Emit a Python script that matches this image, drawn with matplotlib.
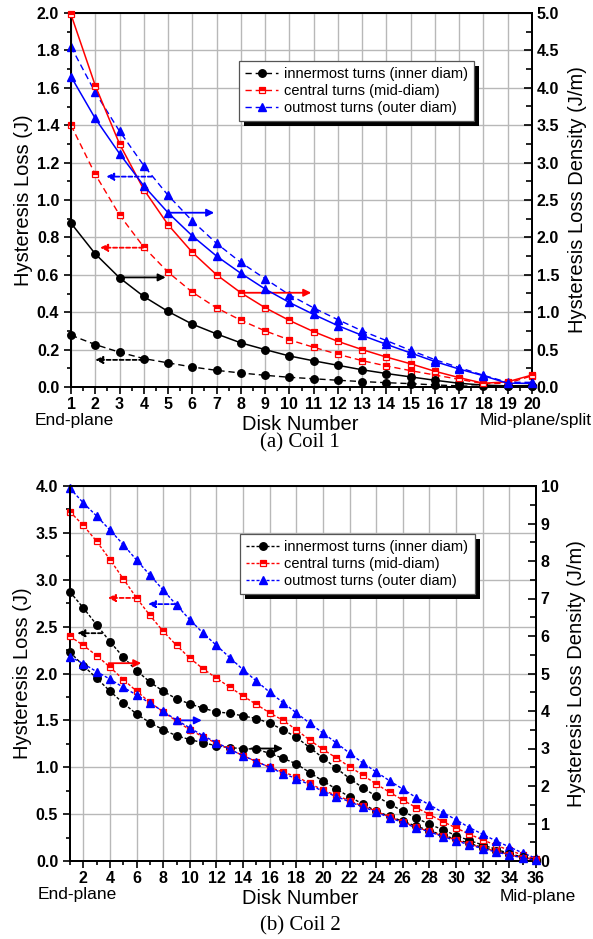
import matplotlib
matplotlib.use("Agg")
import matplotlib.pyplot as plt
from matplotlib.ticker import MultipleLocator, FormatStrFormatter, FixedLocator
from matplotlib.patches import Rectangle
from matplotlib.lines import Line2D
from matplotlib.transforms import IdentityTransform

# ---------------- data: Coil 1 ----------------
disk1 = list(range(1, 21))
c1_inner_loss = [0.277, 0.227, 0.186, 0.152, 0.129, 0.107, 0.089, 0.075, 0.0625, 0.052,
                 0.044, 0.036, 0.029, 0.023, 0.018, 0.011, 0.006, 0.003, 0.003, 0.004]
c1_inner_dens = [2.19, 1.78, 1.46, 1.21, 1.01, 0.84, 0.71, 0.59, 0.50, 0.415,
                 0.35, 0.29, 0.23, 0.18, 0.135, 0.09, 0.05, 0.025, 0.015, 0.02]
c1_mid_loss = [1.40, 1.137, 0.92, 0.748, 0.614, 0.507, 0.423, 0.357, 0.30, 0.252,
               0.2125, 0.175, 0.141, 0.1125, 0.0875, 0.064, 0.041, 0.018, 0.02, 0.06]
c1_mid_dens = [4.98, 4.03, 3.25, 2.64, 2.17, 1.80, 1.50, 1.26, 1.06, 0.89,
               0.74, 0.61, 0.50, 0.40, 0.31, 0.21, 0.125, 0.05, 0.07, 0.16]
c1_outer_loss = [1.82, 1.575, 1.368, 1.184, 1.025, 0.888, 0.768, 0.666, 0.579, 0.493,
                 0.423, 0.36, 0.30, 0.248, 0.196, 0.146, 0.104, 0.0625, 0.025, 0.025]
c1_outer_dens = [4.15, 3.59, 3.12, 2.69, 2.33, 2.02, 1.75, 1.52, 1.31, 1.13,
                 0.97, 0.82, 0.69, 0.57, 0.455, 0.34, 0.24, 0.15, 0.05, 0.05]

# ---------------- data: Coil 2 ----------------
disk2 = list(range(1, 37))
c2_inner_loss = [2.87, 2.70, 2.52, 2.34, 2.175, 2.03, 1.91, 1.81, 1.73, 1.676, 1.63, 1.59,
                 1.576, 1.547, 1.52, 1.47, 1.40, 1.32, 1.21, 1.10, 0.99, 0.88, 0.78, 0.69,
                 0.61, 0.53, 0.46, 0.39, 0.335, 0.27, 0.22, 0.17, 0.125, 0.08, 0.04, 0.015]
c2_inner_dens = [5.57, 5.21, 4.875, 4.53, 4.21, 3.92, 3.69, 3.50, 3.34, 3.24, 3.15, 3.075,
                 3.02, 3.0, 2.98, 2.87, 2.74, 2.59, 2.36, 2.13, 1.92, 1.71, 1.52, 1.33,
                 1.19, 1.06, 0.93, 0.81, 0.69, 0.58, 0.47, 0.36, 0.27, 0.18, 0.10, 0.03]
c2_mid_loss = [3.725, 3.58, 3.41, 3.216, 3.01, 2.806, 2.62, 2.45, 2.30, 2.164, 2.05, 1.95,
               1.854, 1.76, 1.67, 1.58, 1.50, 1.40, 1.29, 1.19, 1.10, 1.005, 0.916, 0.82,
               0.734, 0.65, 0.57, 0.496, 0.42, 0.353, 0.285, 0.225, 0.168, 0.114, 0.064, 0.02]
c2_mid_dens = [5.99, 5.75, 5.48, 5.17, 4.84, 4.53, 4.23, 3.98, 3.73, 3.50, 3.31, 3.14,
               2.98, 2.81, 2.65, 2.50, 2.37, 2.25, 2.07, 1.89, 1.75, 1.61, 1.46, 1.33,
               1.17, 1.05, 0.90, 0.79, 0.67, 0.56, 0.45, 0.35, 0.26, 0.17, 0.09, 0.03]
c2_outer_loss = [3.975, 3.82, 3.68, 3.53, 3.376, 3.21, 3.05, 2.89, 2.73, 2.574, 2.43, 2.30,
                 2.17, 2.04, 1.92, 1.80, 1.69, 1.58, 1.47, 1.365, 1.26, 1.15, 1.045, 0.95,
                 0.856, 0.766, 0.677, 0.60, 0.517, 0.44, 0.356, 0.285, 0.214, 0.15, 0.086, 0.03]
c2_outer_dens = [5.45, 5.26, 5.05, 4.85, 4.63, 4.43, 4.21, 3.99, 3.76, 3.55, 3.34, 3.16,
                 2.98, 2.81, 2.65, 2.50, 2.33, 2.20, 2.03, 1.86, 1.72, 1.58, 1.44, 1.31,
                 1.15, 1.03, 0.88, 0.78, 0.65, 0.54, 0.43, 0.33, 0.24, 0.16, 0.08, 0.02]

legend_labels = ["innermost turns (inner diam)", "central turns (mid-diam)",
                 "outmost turns (outer diam)"]

# arrows (in left-axis data units): (x_start, x_end, y, colour, dashed)
c1_arrows = [(4.33, 2.45, 1.125, "blue", True), (4.98, 6.9, 0.932, "blue", False),
             (3.97, 2.2, 0.745, "red", True), (8.0, 10.9, 0.504, "red", False),
             (3.0, 4.9, 0.586, "black", False), (3.97, 2.0, 0.145, "black", True)]
c2_arrows = [(3.4, 1.55, 2.43, "black", True), (6.0, 3.85, 2.806, "red", True),
             (8.9, 6.85, 2.74, "blue", True), (3.9, 6.35, 2.11, "red", False),
             (8.9, 10.9, 1.50, "blue", False), (14.6, 17.0, 1.20, "black", False)]

SANS = "Liberation Sans"
SERIF = "Liberation Serif"
plt.rcParams["font.family"] = SANS

W, H = 593, 939
fig = plt.figure(figsize=(W / 100, H / 100), dpi=100)
TICK_FS = 11.5

styles = {
    "black": dict(color="black", marker="o", markersize=5.4, markerfacecolor="black",
                  markeredgecolor="black"),
    "red": dict(color="red", marker="s", markersize=4.8, markerfacecolor="red",
                markerfacecoloralt="white", fillstyle="top", markeredgecolor="red",
                markeredgewidth=0.9),
    "blue": dict(color="blue", marker="^", markersize=5.8, markerfacecolor="blue",
                 markeredgecolor="blue"),
}


def make_axes(rect):
    l, b, r, t = rect
    ax = fig.add_axes([l / W, 1 - b / H, (r - l) / W, (b - t) / H])
    axr = ax.twinx()
    for a in (ax, axr):
        for s in a.spines.values():
            s.set_linewidth(1.4)
    ax.set_axisbelow(True)
    ax.grid(True, which="major", color="#b8b8b8", linewidth=1.0)
    ax.tick_params(axis="y", which="both", direction="out", right=False,
                   labelsize=TICK_FS, width=1.2)
    ax.tick_params(axis="y", which="major", length=5)
    ax.tick_params(axis="y", which="minor", length=3)
    ax.tick_params(axis="x", which="both", direction="out", top=False,
                   labelsize=TICK_FS, width=1.2, pad=2.5)
    ax.tick_params(axis="x", which="major", length=5)
    ax.tick_params(axis="x", which="minor", length=3)
    axr.tick_params(axis="y", which="both", direction="in", left=False,
                    labelsize=TICK_FS, width=1.2)
    axr.tick_params(axis="y", which="major", length=6)
    axr.tick_params(axis="y", which="minor", length=4)
    axr.tick_params(axis="x", which="major", direction="in", top=True, bottom=False,
                    labeltop=False, labelbottom=False, length=6, width=1.2)
    axr.tick_params(axis="x", which="minor", top=False, bottom=False)
    return ax, axr


def bold_ticks(ax, axr):
    for lab in ax.get_xticklabels() + ax.get_yticklabels() + axr.get_yticklabels():
        lab.set_fontweight("bold")


def add_arrows(ax, arrows):
    for x0, x1, y, col, dashed in arrows:
        ax.annotate("", xy=(x1, y), xytext=(x0, y),
                    arrowprops=dict(arrowstyle="-|>", color=col, lw=1.3,
                                    linestyle=(0, (2.2, 1.4)) if dashed else "-",
                                    mutation_scale=11, shrinkA=0, shrinkB=0),
                    zorder=6)


def add_legend(axr, handles):
    leg = axr.legend(handles, legend_labels, loc="upper left",
                     bbox_to_anchor=(0.364, 0.872), fontsize=10.5, frameon=True,
                     fancybox=False, framealpha=1, edgecolor="#555555",
                     borderpad=0.42, labelspacing=0.2, handlelength=2.3,
                     handletextpad=0.35, borderaxespad=0)
    leg.get_frame().set_linewidth(0.9)
    leg.set_zorder(10)
    return leg


def shadow_for(leg, axr):
    fig.canvas.draw()
    bb = leg.get_window_extent()
    rect = Rectangle((bb.x0 + 5, bb.y0 - 5), bb.width, bb.height,
                     transform=IdentityTransform(), facecolor="black",
                     edgecolor="none", zorder=9, clip_on=False)
    axr.add_artist(rect)


# ================= Coil 1 =================
ax1, ax1r = make_axes((71, 387, 532, 13))
dash1 = (0, (4.5, 2.8))
series1 = [("black", c1_inner_loss, c1_inner_dens),
           ("red", c1_mid_loss, c1_mid_dens),
           ("blue", c1_outer_loss, c1_outer_dens)]
h1 = []
for col, loss, dens in series1:
    ax1.plot(disk1, loss, linestyle=dash1, lw=1.0, clip_on=False, zorder=3, **styles[col])
    ax1r.plot(disk1, dens, linestyle="-", lw=1.1, clip_on=False, zorder=3, **styles[col])
    h1.append(Line2D([], [], linestyle=dash1, lw=1.0, **styles[col]))
ax1.set_xlim(1, 20)
ax1.set_ylim(0, 2.0)
ax1r.set_ylim(0, 5.0)
ax1.xaxis.set_major_locator(MultipleLocator(1))
ax1.xaxis.set_minor_locator(MultipleLocator(0.5))
ax1.yaxis.set_major_locator(MultipleLocator(0.2))
ax1.yaxis.set_minor_locator(MultipleLocator(0.1))
ax1.yaxis.set_major_formatter(FormatStrFormatter("%.1f"))
ax1r.yaxis.set_major_locator(MultipleLocator(0.5))
ax1r.yaxis.set_minor_locator(MultipleLocator(0.25))
ax1r.yaxis.set_major_formatter(FormatStrFormatter("%.1f"))
ax1.set_ylabel("Hysteresis Loss (J)", fontsize=14.5, labelpad=3)
ax1r.set_ylabel("Hysteresis Loss Density (J/m)", fontsize=14.5, labelpad=6)
add_arrows(ax1, c1_arrows)
bold_ticks(ax1, ax1r)
leg1 = add_legend(ax1r, h1)

# ================= Coil 2 =================
ax2, ax2r = make_axes((70, 861, 536, 486))
dash2 = (0, (2.2, 1.4))
series2 = [("black", c2_inner_loss, c2_inner_dens),
           ("red", c2_mid_loss, c2_mid_dens),
           ("blue", c2_outer_loss, c2_outer_dens)]
h2 = []
for col, loss, dens in series2:
    ax2.plot(disk2, loss, linestyle=dash2, lw=1.0, clip_on=False, zorder=3, **styles[col])
    ax2r.plot(disk2, dens, linestyle=dash2, lw=1.0, clip_on=False, zorder=3, **styles[col])
    h2.append(Line2D([], [], linestyle=dash2, lw=1.0, **styles[col]))
ax2.set_xlim(1, 36)
ax2.set_ylim(0, 4.0)
ax2r.set_ylim(0, 10)
ax2.xaxis.set_major_locator(FixedLocator(list(range(2, 37, 2))))
ax2.xaxis.set_minor_locator(FixedLocator(list(range(1, 37, 2))))
ax2.yaxis.set_major_locator(MultipleLocator(0.5))
ax2.yaxis.set_minor_locator(MultipleLocator(0.25))
ax2.yaxis.set_major_formatter(FormatStrFormatter("%.1f"))
ax2r.yaxis.set_major_locator(MultipleLocator(1))
ax2r.yaxis.set_minor_locator(MultipleLocator(0.5))
ax2r.yaxis.set_major_formatter(FormatStrFormatter("%d"))
ax2.set_ylabel("Hysteresis Loss (J)", fontsize=14.5, labelpad=3)
ax2r.set_ylabel("Hysteresis Loss Density (J/m)", fontsize=14.5, labelpad=6)
add_arrows(ax2, c2_arrows)
bold_ticks(ax2, ax2r)
leg2 = add_legend(ax2r, h2)

# ================= texts =================
fig.text(35 / W, 1 - 421 / H, "End-plane", fontsize=12.5, ha="left", va="center")
fig.text(300 / W, 1 - 424 / H, "Disk Number", fontsize=14.5, ha="center", va="center")
fig.text(592 / W, 1 - 420 / H, "Mid-plane/split", fontsize=12.5, ha="right", va="center")
fig.text(300 / W, 1 - 443 / H, "(a) Coil 1", fontsize=15, ha="center", va="center",
         family=SERIF)

fig.text(38 / W, 1 - 895 / H, "End-plane", fontsize=12.5, ha="left", va="center")
fig.text(300 / W, 1 - 899 / H, "Disk Number", fontsize=14.5, ha="center", va="center")
fig.text(576 / W, 1 - 897 / H, "Mid-plane", fontsize=12.5, ha="right", va="center")
fig.text(300 / W, 1 - 926 / H, "(b) Coil 2", fontsize=15, ha="center", va="center",
         family=SERIF)

shadow_for(leg1, ax1r)
shadow_for(leg2, ax2r)

fig.savefig("out.png", dpi=100)
